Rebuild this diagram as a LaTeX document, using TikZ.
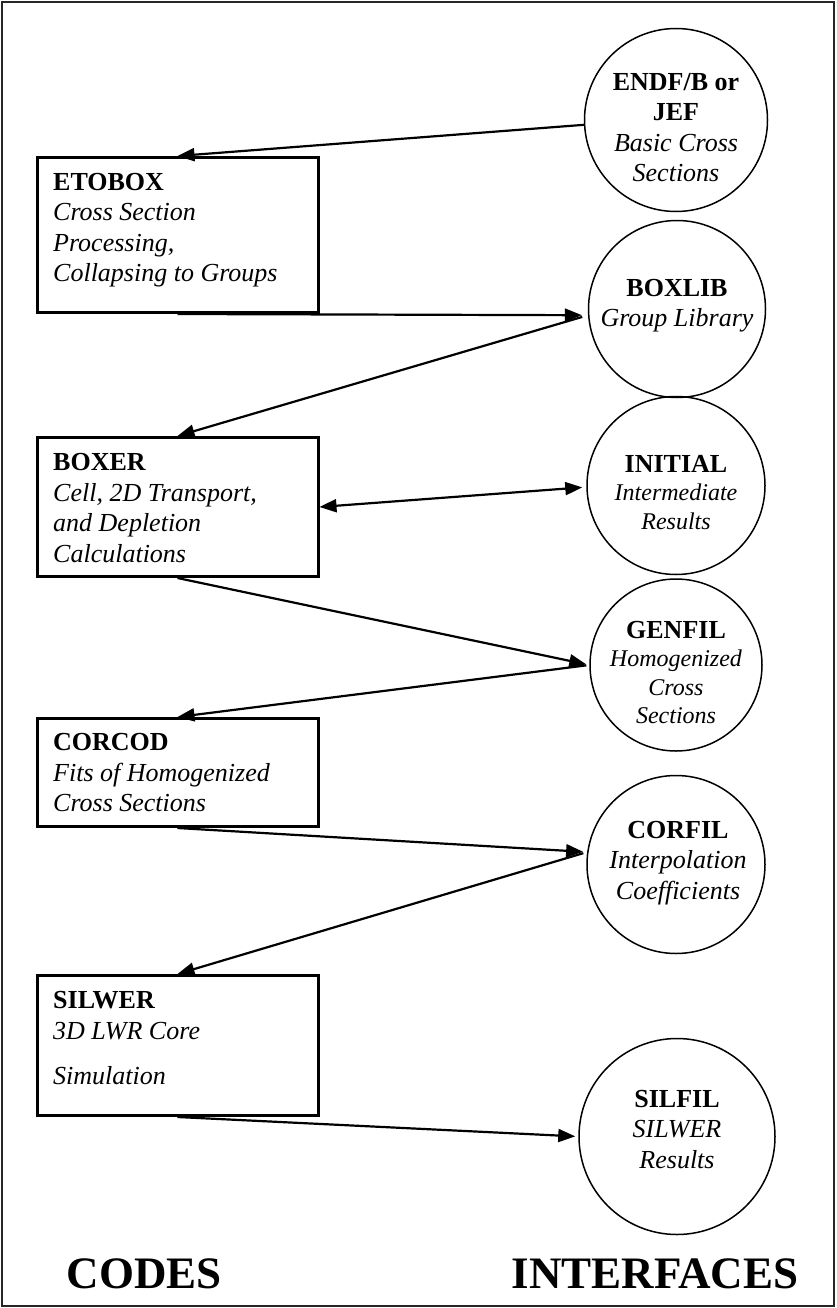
\documentclass[tikz,border=0pt]{standalone}
\usepackage{fontspec}
\setmainfont{Liberation Serif}
\usetikzlibrary{arrows.meta}
\begin{document}
\begin{tikzpicture}[x=1pt,y=-1pt,
  codebox/.style={draw, line width=3pt, minimum width=281pt, inner sep=0pt},
  iface/.style={draw, circle, line width=1.5pt, inner sep=0pt},
  lbl/.style={anchor=base west, inner sep=0pt, font=\fontsize{26}{30.5}\selectfont},
  clbl/.style={anchor=base, inner sep=0pt, font=\fontsize{26}{30.5}\selectfont},
  slbl/.style={anchor=base, inner sep=0pt, font=\fontsize{24}{28.5}\selectfont},
  big/.style={anchor=base, inner sep=0pt, font=\fontsize{45}{50}\selectfont\bfseries},
  tip/.tip={Triangle[length=17pt,width=13pt]},
  flow/.style={line width=2.2pt, -tip},
  flow2/.style={line width=2.2pt, tip-tip}
]
\useasboundingbox (0,0) rectangle (836,1308);
\draw[black!85, line width=1.5pt] (2,2) rectangle (834,1306);

% code boxes
\node[codebox, minimum height=155pt] (etobox) at (177.5,235) {};
\node[codebox, minimum height=139pt] (boxer) at (177.5,507) {};
\node[codebox, minimum height=108pt] (corcod) at (177.5,772.5) {};
\node[codebox, minimum height=140pt] (silwer) at (177.5,1045.5) {};

% interface circles
\node[iface, minimum size=183pt] (endf) at (676,120) {};
\node[iface, minimum size=177pt] (boxlib) at (677,309) {};
\node[iface, minimum size=178pt] (initial) at (676,485.5) {};
\node[iface, minimum size=172pt] (genfil) at (676,665) {};
\node[iface, minimum size=178pt] (corfil) at (676,864.5) {};
\node[iface, minimum size=196pt] (silfil) at (677,1136.5) {};

% box texts
\node[lbl] (etoboxt) at (53,190) {\begin{tabular}[t]{@{}l@{}}\textbf{ETOBOX}\\\textit{Cross Section}\\\textit{Processing,}\\\textit{Collapsing to Groups}\end{tabular}};
\node[lbl] (boxert) at (53,470.5) {\begin{tabular}[t]{@{}l@{}}\textbf{BOXER}\\\textit{Cell, 2D Transport,}\\\textit{and Depletion}\\\textit{Calculations}\end{tabular}};
\node[lbl] (corcodt) at (53,750.5) {\begin{tabular}[t]{@{}l@{}}\textbf{CORCOD}\\\textit{Fits of Homogenized}\\\textit{Cross Sections}\end{tabular}};
\node[lbl] (silwert) at (53,1008.5) {\begin{tabular}[t]{@{}l@{}}\textbf{SILWER}\\\textit{3D LWR Core}\\[15pt]\textit{Simulation}\end{tabular}};

% circle texts
\node[clbl] (endft) at (676,90.5) {\begin{tabular}[t]{@{}c@{}}\textbf{ENDF/B or}\\\textbf{JEF}\\\textit{Basic Cross}\\\textit{Sections}\end{tabular}};
\node[clbl] (boxlibt) at (677,296) {\begin{tabular}[t]{@{}c@{}}\textbf{BOXLIB}\\\textit{Group Library}\end{tabular}};
\node[slbl] (initialt) at (676,472) {\begin{tabular}[t]{@{}c@{}}{\fontsize{26}{28.5}\selectfont\bfseries INITIAL}\\\textit{Intermediate}\\\textit{Results}\end{tabular}};
\node[slbl] (genfilt) at (676,638) {\begin{tabular}[t]{@{}c@{}}{\fontsize{26}{28.5}\selectfont\bfseries GENFIL}\\\textit{Homogenized}\\\textit{Cross}\\\textit{Sections}\end{tabular}};
\node[clbl] (corfilt) at (678,838) {\begin{tabular}[t]{@{}c@{}}\textbf{CORFIL}\\\textit{Interpolation}\\\textit{Coefficients}\end{tabular}};
\node[clbl] (silfilt) at (677,1107) {\begin{tabular}[t]{@{}c@{}}\textbf{SILFIL}\\\textit{SILWER}\\\textit{Results}\end{tabular}};

% column titles
\node[big] (codes) at (144.5,1288) {CODES};
\node[big] (interfaces) at (655,1288) {INTERFACES};

% connectors
\draw[flow] (endf.183) -- (etobox.north);
\draw[flow, shorten >=6pt] (etobox.south) -- (boxlib.184);
\draw[flow, shorten <=6pt] (boxlib.184) -- (boxer.north);
\draw[flow2, shorten >=4pt] (boxer.east) -- (initial.181);
\draw[flow, shorten >=3pt] (boxer.south) -- (genfil.180);
\draw[flow, shorten <=3pt] (genfil.180) -- (corcod.north);
\draw[flow, shorten >=4pt] (corcod.south) -- (corfil.172);
\draw[flow, shorten <=4pt] (corfil.172) -- (silwer.north);
\draw[flow, shorten >=3pt] (silwer.south) -- (silfil.180);
\end{tikzpicture}
\end{document}
